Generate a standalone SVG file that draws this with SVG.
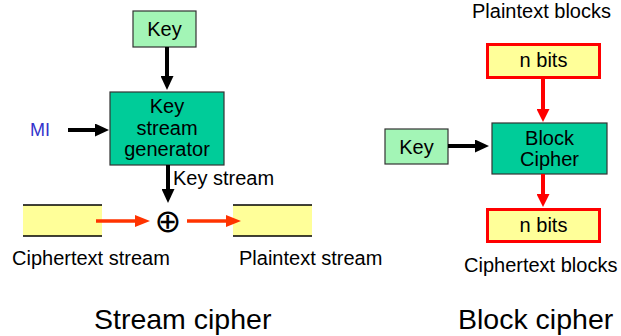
<svg xmlns="http://www.w3.org/2000/svg" width="621" height="336" viewBox="0 0 621 336">
  <style>
    text { font-family: "Liberation Sans", Arial, sans-serif; font-size: 20px; fill: #000; }
    .mid { text-anchor: middle; }
    .title { font-size: 28.5px; }
    .key { fill: #A3F5B6; stroke: #333; stroke-width: 1.2; }
    .proc { fill: #00CC99; stroke: #333; stroke-width: 1.2; }
    .buf { fill: #FFFF99; }
    .edge { stroke: #000; stroke-width: 1.5; }
    .blk { fill: #FFFF99; stroke: #FF0000; stroke-width: 3; }
    .ab { stroke: #000; stroke-width: 4; fill: none; }
    .ar { stroke: #FF3300; stroke-width: 3.5; fill: none; }
    .arr { stroke: #FF0000; stroke-width: 4; fill: none; }
  </style>
  <defs>
    <marker id="headBlack" markerUnits="userSpaceOnUse" markerWidth="14" markerHeight="13" refX="6" refY="6.5" orient="auto">
      <path d="M0,0 L14,6.5 L0,13 z" fill="#000"/>
    </marker>
    <marker id="headOrange" markerUnits="userSpaceOnUse" markerWidth="15" markerHeight="12" refX="7" refY="6" orient="auto">
      <path d="M0,0 L15,6 L0,12 z" fill="#FF3300"/>
    </marker>
    <marker id="headRed" markerUnits="userSpaceOnUse" markerWidth="13" markerHeight="13" refX="5" refY="6.5" orient="auto">
      <path d="M0,0 L13,6.5 L0,13 z" fill="#FF0000"/>
    </marker>
  </defs>

  <!-- Stream cipher side -->
  <g id="stream-key">
    <rect class="key" x="133" y="11" width="63" height="36"/>
    <text class="mid" x="164.5" y="36">Key</text>
  </g>
  <g id="keystream-generator">
    <rect class="proc" x="110" y="92" width="114" height="73"/>
    <text class="mid" x="167" y="113">Key</text>
    <text class="mid" x="167" y="135">stream</text>
    <text class="mid" x="167" y="156">generator</text>
  </g>
  <g id="mi">
    <text x="30" y="136" style="fill:#3333CC;font-size:18px">MI</text>
  </g>
  <g id="xor">
    <text class="mid" x="168" y="232" style="font-family:'DejaVu Sans',sans-serif;font-size:32px">⊕</text>
  </g>
  <g id="ciphertext-stream">
    <rect class="buf" x="23" y="205" width="79" height="31"/>
    <line class="edge" x1="23" y1="205" x2="102" y2="205"/>
    <line class="edge" x1="23" y1="236" x2="102" y2="236"/>
    <text x="12" y="265">Ciphertext stream</text>
  </g>
  <g id="plaintext-stream">
    <rect class="buf" x="233" y="205" width="79" height="31"/>
    <line class="edge" x1="233" y1="205" x2="312" y2="205"/>
    <line class="edge" x1="233" y1="236" x2="312" y2="236"/>
    <text x="239" y="265">Plaintext stream</text>
  </g>
  <g id="label-keystream">
    <text x="173" y="185">Key stream</text>
  </g>
  <g id="title-stream">
    <text class="title" x="94" y="329">Stream cipher</text>
  </g>

  <!-- Block cipher side -->
  <g id="plaintext-block">
    <text x="472" y="18">Plaintext blocks</text>
    <rect class="blk" x="487.5" y="44.5" width="112" height="33"/>
    <text class="mid" x="543.5" y="67">n bits</text>
  </g>
  <g id="block-cipher">
    <rect class="proc" x="492" y="123" width="115" height="51"/>
    <text class="mid" x="549.5" y="145">Block</text>
    <text class="mid" x="549.5" y="166">Cipher</text>
  </g>
  <g id="block-key">
    <rect class="key" x="385" y="129" width="63" height="35"/>
    <text class="mid" x="416.5" y="154">Key</text>
  </g>
  <g id="ciphertext-block">
    <rect class="blk" x="487.5" y="209.5" width="112" height="32"/>
    <text class="mid" x="543.5" y="232">n bits</text>
    <text x="464" y="272">Ciphertext blocks</text>
  </g>
  <g id="title-block">
    <text class="title" x="458" y="329">Block cipher</text>
  </g>

  <!-- Connectors -->
  <g id="connectors">
    <line class="ab" x1="167" y1="47" x2="167" y2="82" marker-end="url(#headBlack)"/>
    <line class="ab" x1="68" y1="130" x2="101" y2="130" marker-end="url(#headBlack)"/>
    <line class="ab" x1="168" y1="165" x2="168" y2="195" marker-end="url(#headBlack)"/>
    <line class="ar" x1="96" y1="221" x2="142" y2="221" marker-end="url(#headOrange)"/>
    <line class="ar" x1="187" y1="221" x2="233" y2="221" marker-end="url(#headOrange)"/>
    <line class="arr" x1="543" y1="79" x2="543" y2="114" marker-end="url(#headRed)"/>
    <line class="arr" x1="543" y1="174" x2="543" y2="199" marker-end="url(#headRed)"/>
    <line class="ab" x1="448" y1="146" x2="481" y2="146" marker-end="url(#headBlack)"/>
  </g>
</svg>
